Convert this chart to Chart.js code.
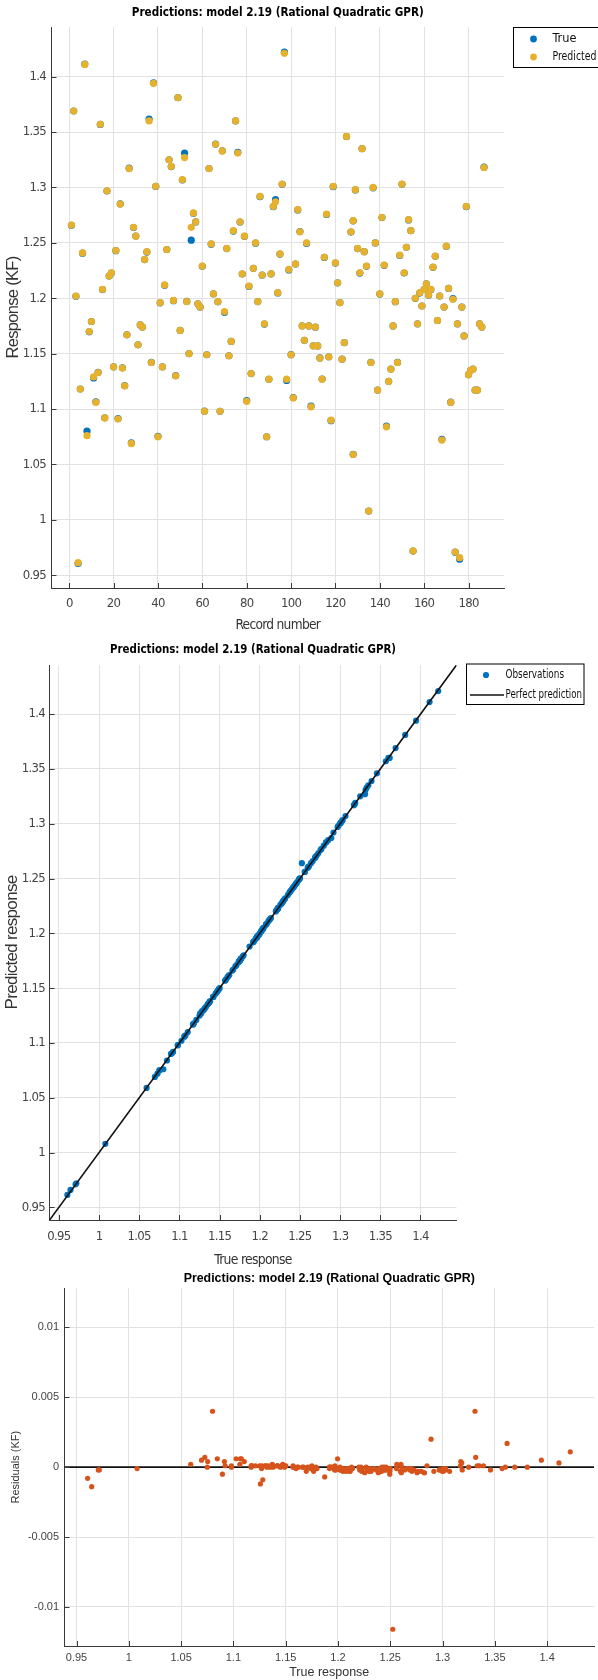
<!DOCTYPE html>
<html>
<head>
<meta charset="utf-8">
<script src="https://cdn.jsdelivr.net/npm/chart.js"></script>
<style>
  html, body { margin: 0; padding: 0; background: #fff; }
  body { width: 598px; height: 1680px; position: relative; overflow: hidden; }
  canvas { position: absolute; left: 0; }
</style>
</head>
<body>
<canvas id="c1" width="598" height="645" style="top:0px"></canvas>
<canvas id="c2" width="598" height="630" style="top:640px"></canvas>
<canvas id="c3" width="598" height="414" style="top:1266px"></canvas>
<script>
// record numbers (x of the top chart)
var records = [
  1,2,3,4,5,6,7,8,9,10, 11,12,13,14,15,16,17,18,19,20,
  21,22,23,24,25,26,27,28,29,30, 31,32,33,34,35,36,37,38,39,40,
  41,42,43,44,45,46,47,48,49,50, 51,52,53,54,55,56,57,58,59,60,
  61,62,63,64,65,66,67,68,69,70, 71,72,73,74,75,76,77,78,79,80,
  81,82,83,84,85,86,87,88,89,90, 91,92,93,94,95,96,97,98,99,100,
  101,102,103,104,105,106,107,108,109,110, 111,112,113,114,115,116,117,118,119,120,
  121,122,123,124,125, 127,128,128,
  129,130,131,132,133,134,135,136,137,138, 139,140,141,142,143,144,145,146,147,148,
  149,150,151,152,153,154,155,156,157,158, 159,160,161,162,163,164,165,166,167,168,
  169,170,171,172,173,174,175,176,177,178, 179,180,181,182,183,184,185,186,187
];

// predicted response (KF)
var predicted = [
  1.266,1.369,1.202,0.9614,1.118,1.241,1.411,1.076,1.170,1.179,
  1.129,1.106,1.133,1.357,1.208,1.092,1.297,1.220,1.223,1.138,
  1.243,1.091,1.285,1.137,1.121,1.167,1.317,1.069,1.264,1.256,
  1.158,1.176,1.174,1.235,1.242,1.360,1.142,1.394,1.301,1.075,
  1.196,1.138,1.212,1.244,1.325,1.319,1.198,1.130,1.381,1.171,
  1.307,1.327,1.197,1.150,1.264,1.277,1.269,1.195,1.192,1.229,
  1.098,1.149,1.317,1.249,1.204,1.339,1.197,1.098,1.333,1.188,
  1.245,1.148,1.161,1.261,1.360,1.331,1.269,1.222,1.256,1.107,
  1.211,1.132,1.227,1.250,1.197,1.292,1.221,1.177,1.075,1.127,
  1.222,1.283,1.287,1.205,1.240,1.303,1.421,1.127,1.226,1.149,
  1.110,1.231,1.280,1.260,1.175,1.162,1.250,1.175,1.102,1.157,
  1.174,1.157,1.146,1.127,1.237,1.276,1.147,1.090,1.301,1.232,
  1.214,1.196,1.145,1.160,1.346, 1.260,1.270,1.059,
  1.298,1.245,1.223,1.335,1.242,1.229,1.008,1.142,1.300,1.250,
  1.117,1.204,1.273,1.230,1.084,1.125,1.136,1.175,1.197,1.142,
  1.239,1.303,1.223,1.246,1.271,1.261,0.972,1.200,1.177,1.205,
  1.193,1.208,1.213,1.203,1.208,1.228,1.238,1.180,1.202,1.072,
  1.192,1.247,1.209,1.106,1.199,0.971,1.177,0.9659,1.192,1.166,
  1.283,1.131,1.135,1.136,1.117,1.117,1.177,1.174,1.318
];

// residuals = true - predicted (KF)
var residuals = [
  -0.0001,0,-0.0002,-0.0008,0.0001,-0.0003,0.0003,0.0040,-0.0003,0,
  -0.0009,0.0006,0.0001,-0.0001,-0.0002,0.0001,-0.0002,0,-0.0002,0.0001,
  -0.0001,0.0004,0.0001,0.0002,0.0001,0,0.0004,0.0005,-0.0002,0.0002,
  0,-0.0001,0,-0.0001,-0.0003,0.0017,0.0001,0.0005,-0.0001,0.0004,
  -0.0001,0,-0.0003,0,0,-0.0002,-0.0002,0.0001,0,0,
  -0.0003,0.0040,0.0001,0.0001,-0.0116,-0.0003,-0.0001,0,-0.0001,-0.0002,
  0.0001,0,0.0001,-0.0002,-0.0001,0.0001,-0.0002,0,0.0001,-0.0007,
  -0.0002,0.0001,0,-0.0004,0,0.0007,-0.0002,-0.0001,-0.0001,0.0006,
  -0.0003,0,0,-0.0003,0,-0.0003,-0.0002,-0.0003,0,-0.0001,
  0,-0.0004,0.0020,-0.0002,-0.0001,-0.0002,0.0011,-0.0012,-0.0004,0.0001,
  0.0004,-0.0001,-0.0003,0.0002,0.0001,0,-0.0005,0,0.0006,0.0001,
  -0.0001,0,0.0001,0.0001,-0.0002,-0.0004,0.0002,-0.0005,-0.0003,-0.0003,
  -0.0001,0,0,-0.0001,-0.0002, -0.0003,-0.0001,0.0002,
  -0.0002,-0.0002,-0.0003,0.0001,0,-0.0002,-0.0001,0.0001,-0.0003,-0.0001,
  0.0001,-0.0002,-0.0002,-0.0003,0.0006,0.0001,0.0001,0,-0.0001,0.0001,
  -0.0004,-0.0001,-0.0002,0,-0.0003,0,-0.0002,-0.0001,-0.0001,-0.0003,
  0,-0.0001,0,-0.0002,-0.0003,-0.0001,-0.0002,-0.0001,0,0.0007,
  0,-0.0002,-0.0001,0.0002,0.0006,-0.0002,-0.0001,-0.0014,0,0,
  -0.0004,0.0001,0,0.0001,0,0.0001,-0.0001,0,0.0003
];

var trueResp = predicted.map(function (p, i) { return +(p + residuals[i]).toFixed(4); });

var recordTicks = ['0','20','40','60','80','100','120','140','160','180'];
var responseTicks = ['0.95','1','1.05','1.1','1.15','1.2','1.25','1.3','1.35','1.4'];
var residualTicks = ['-0.01','-0.005','0','0.005','0.01'];

var RESP_MIN = 0.9385, RESP_MAX = 1.4448;
var RES_MIN = -0.0128, RES_MAX = 0.0128;

var BLUE = '#0072BD', YELLOW = '#E8B12B', ORANGE = '#D6541C';
var GRID = '#e2e2e2', AXIS = '#3a3a3a', TICK = '#444';
var NARROW = '"Liberation Sans Narrow", "Arial Narrow", "DejaVu Sans Condensed", sans-serif';
var ARIAL = '"Liberation Sans", Arial, sans-serif';

function fixTicks(labels) {
  return function (scale) {
    scale.ticks = labels.map(function (t) { return { value: Number(t) }; });
  };
}

function pts(xs, ys) {
  return xs.map(function (x, i) { return { x: x, y: ys[i] }; });
}

// tighter letters for the narrow MATLAB font
var squeeze = {
  id: 'squeeze',
  beforeDraw: function (chart, args, o) {
    chart.ctx.letterSpacing = (o.spacing || 0) + 'px';
  }
};

// title, legend and inward tick marks, MATLAB style
var matlabDecor = {
  id: 'matlabDecor',
  afterDraw: function (chart, args, o) {
    var ctx = chart.ctx, a = chart.chartArea;
    ctx.save();
    ctx.letterSpacing = '0px';
    ctx.strokeStyle = AXIS;
    ctx.lineWidth = 1;
    var xs = chart.scales.x, ys = chart.scales.y;
    xs.ticks.forEach(function (t) {
      var p = Math.round(xs.getPixelForValue(t.value)) + 0.5;
      ctx.beginPath(); ctx.moveTo(p, a.bottom); ctx.lineTo(p, a.bottom - 5); ctx.stroke();
    });
    ys.ticks.forEach(function (t) {
      var p = Math.round(ys.getPixelForValue(t.value)) + 0.5;
      ctx.beginPath(); ctx.moveTo(a.left, p); ctx.lineTo(a.left + 5, p); ctx.stroke();
    });

    ctx.fillStyle = '#000';
    ctx.font = o.titleFont;
    ctx.textAlign = 'center';
    ctx.textBaseline = 'middle';
    ctx.fillText(o.title, (a.left + a.right) / 2, o.titleY, o.titleWidth);

    if (o.legend) {
      var L = o.legend;
      ctx.strokeStyle = '#000';
      ctx.fillStyle = '#fff';
      ctx.fillRect(L.x, L.y, L.w, L.h);
      ctx.strokeRect(L.x + 0.5, L.y + 0.5, L.w, L.h);
      ctx.font = L.font;
      ctx.textAlign = 'left';
      L.items.forEach(function (it) {
        if (it.kind === 'dot') {
          ctx.fillStyle = it.color;
          ctx.beginPath(); ctx.arc(L.markX, it.y, it.r, 0, Math.PI * 2); ctx.fill();
        } else {
          ctx.strokeStyle = it.color; ctx.lineWidth = 1.6;
          ctx.beginPath(); ctx.moveTo(L.markX - 16, it.y); ctx.lineTo(L.markX + 18, it.y); ctx.stroke();
        }
        ctx.fillStyle = '#111';
        ctx.fillText(it.text, L.textX, it.y, it.w);
      });
    }
    ctx.restore();
  }
};

function axisX(labels, min, max, height, tickFont, tickPad, title, titleFont, titlePadB) {
  return {
    type: 'linear', min: min, max: max,
    afterBuildTicks: fixTicks(labels),
    afterFit: function (s) { s.height = height; },
    grid: { color: GRID, drawTicks: false },
    border: { color: AXIS, width: 1 },
    ticks: { padding: tickPad, font: tickFont, color: TICK, autoSkip: false, maxRotation: 0,
             callback: function (v, i) { return labels[i]; } },
    title: { display: true, text: title, font: titleFont, color: '#333', padding: { top: 0, bottom: titlePadB } }
  };
}

function axisY(labels, min, max, width, tickFont, tickPad, title, titleFont, titlePadT) {
  return {
    type: 'linear', min: min, max: max,
    afterBuildTicks: fixTicks(labels),
    afterFit: function (s) { s.width = width; },
    grid: { color: GRID, drawTicks: false },
    border: { color: AXIS, width: 1 },
    ticks: { padding: tickPad, font: tickFont, color: TICK, autoSkip: false,
             callback: function (v, i) { return labels[i]; } },
    title: { display: true, text: title, font: titleFont, color: '#333', padding: { top: titlePadT, bottom: 0 } }
  };
}

var base = { responsive: false, animation: false, devicePixelRatio: 1 };

// chart 1: response by record number
new Chart(document.getElementById('c1'), {
  type: 'scatter',
  data: {
    datasets: [
      { label: 'Predicted', data: pts(records, predicted), backgroundColor: YELLOW, pointRadius: 3.6, borderWidth: 0, order: 0 },
      { label: 'True', data: pts(records, trueResp), backgroundColor: BLUE, pointRadius: 3.6, borderWidth: 0, order: 1 }
    ]
  },
  options: Object.assign({}, base, {
    layout: { padding: { left: 0, top: 27, right: 94, bottom: 0 } },
    plugins: {
      legend: { display: false }, tooltip: { enabled: false },
      squeeze: { spacing: -0.7 },
      matlabDecor: {
        title: 'Predictions: model 2.19 (Rational Quadratic GPR)',
        titleFont: 'bold 13px ' + NARROW, titleY: 13, titleWidth: 292,
        legend: {
          x: 513, y: 27, w: 100, h: 40, markX: 533.5, textX: 552.5, font: '13px ' + NARROW,
          items: [
            { kind: 'dot', color: BLUE, r: 3.4, y: 39, text: 'True', w: 24 },
            { kind: 'dot', color: YELLOW, r: 3.4, y: 57, text: 'Predicted', w: 44 }
          ]
        }
      }
    },
    scales: {
      x: axisX(recordTicks, -8, 196, 57, { family: NARROW, size: 13 }, 8.2,
               'Record number', { family: NARROW, size: 13.6 }, 11.8),
      y: axisY(responseTicks, RESP_MIN, RESP_MAX, 51.5, { family: NARROW, size: 13 }, 5.5,
               'Response (KF)', { family: ARIAL, size: 16.5 }, 3.1)
    }
  }),
  plugins: [squeeze, matlabDecor]
});

// chart 2: predicted vs true
new Chart(document.getElementById('c2'), {
  type: 'scatter',
  data: {
    datasets: [
      { type: 'line', label: 'Perfect prediction', data: pts([RESP_MIN, RESP_MAX], [RESP_MIN, RESP_MAX]),
        borderColor: '#111', borderWidth: 1.6, pointRadius: 0, fill: false, order: 0 },
      { label: 'Observations', data: pts(trueResp, predicted), backgroundColor: BLUE, pointRadius: 3.1, borderWidth: 0, order: 1 }
    ]
  },
  options: Object.assign({}, base, {
    layout: { padding: { left: 0, top: 25, right: 141.5, bottom: 0 } },
    plugins: {
      legend: { display: false }, tooltip: { enabled: false },
      squeeze: { spacing: -0.7 },
      matlabDecor: {
        title: 'Predictions: model 2.19 (Rational Quadratic GPR)',
        titleFont: 'bold 13px ' + NARROW, titleY: 10, titleWidth: 286,
        legend: {
          x: 466, y: 23.5, w: 117.5, h: 40.5, markX: 486, textX: 505.5, font: '12.5px ' + NARROW,
          items: [
            { kind: 'dot', color: BLUE, r: 3.1, y: 35, text: 'Observations', w: 58.5 },
            { kind: 'line', color: '#111', y: 55, text: 'Perfect prediction', w: 76.5 }
          ]
        }
      }
    },
    scales: {
      x: axisX(responseTicks, RESP_MIN, RESP_MAX, 50, { family: NARROW, size: 13 }, 8.9,
               'True response', { family: NARROW, size: 13.8 }, 1.7),
      y: axisY(responseTicks, RESP_MIN, RESP_MAX, 49.6, { family: NARROW, size: 13 }, 4.6,
               'Predicted response', { family: ARIAL, size: 17 }, 2.4)
    }
  }),
  plugins: [squeeze, matlabDecor]
});

// chart 3: residuals vs true
new Chart(document.getElementById('c3'), {
  type: 'scatter',
  data: {
    datasets: [
      { label: 'Residuals', data: pts(trueResp, residuals), backgroundColor: ORANGE, pointRadius: 2.6, borderWidth: 0, order: 0 },
      { type: 'line', label: 'zero', data: pts([RESP_MIN, RESP_MAX], [0, 0]),
        borderColor: '#111', borderWidth: 1.6, pointRadius: 0, fill: false, order: 1 }
    ]
  },
  options: Object.assign({}, base, {
    layout: { padding: { left: 0, top: 22.3, right: 4, bottom: 0 } },
    plugins: {
      legend: { display: false }, tooltip: { enabled: false },
      matlabDecor: {
        title: 'Predictions: model 2.19 (Rational Quadratic GPR)',
        titleFont: 'bold 12.4px ' + ARIAL, titleY: 13
      }
    },
    scales: {
      x: axisX(responseTicks, RESP_MIN, RESP_MAX, 34, { family: ARIAL, size: 11 }, 5.1,
               'True response', { family: ARIAL, size: 12.5 }, 0.2),
      y: axisY(residualTicks, RES_MIN, RES_MAX, 64.5, { family: ARIAL, size: 11 }, 5.4,
               'Residuals (KF)', { family: ARIAL, size: 11 }, 9.4)
    }
  }),
  plugins: [matlabDecor]
});
</script>
</body>
</html>
